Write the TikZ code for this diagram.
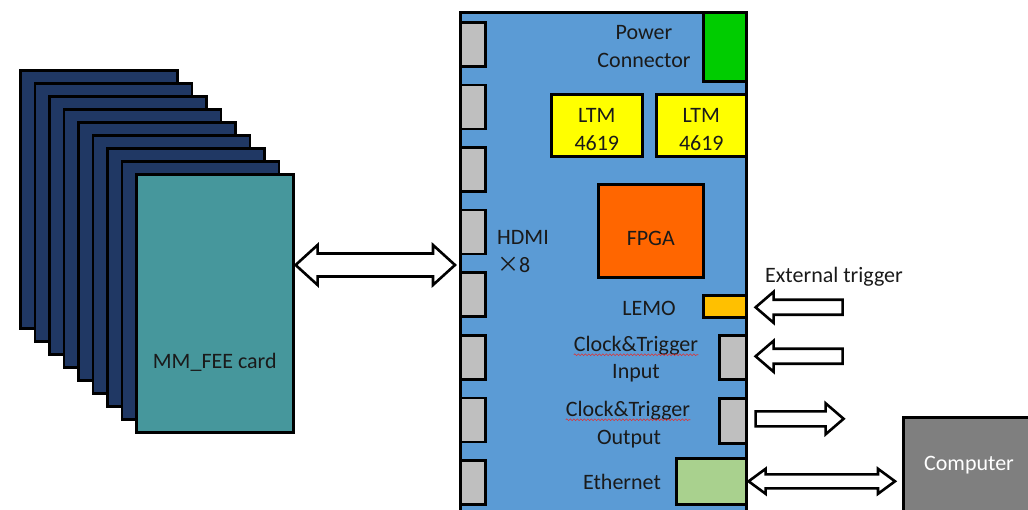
\documentclass[tikz,border=0pt]{standalone}
\usepackage{fontspec}
\setmainfont{Carlito}
\newfontfamily\cjk{Noto Sans CJK SC}
\usetikzlibrary{calc,decorations.pathmorphing}
\definecolor{navy}{HTML}{203864}
\definecolor{teal2}{HTML}{46979C}
\definecolor{boardblue}{HTML}{5B9BD5}
\definecolor{portgrey}{HTML}{BFBFBF}
\definecolor{pwrgreen}{HTML}{00CC00}
\definecolor{ltmyellow}{HTML}{FFFF00}
\definecolor{fpgaorange}{HTML}{FF6600}
\definecolor{lemoorange}{HTML}{FFC000}
\definecolor{ethgreen}{HTML}{A9D18E}
\definecolor{compgrey}{HTML}{7F7F7F}
\definecolor{txtc}{HTML}{1A1A1A}
\definecolor{squig}{HTML}{E03030}
\newcommand{\dblarrowblk}[5]{%
  \draw[barrow] let \p1=(#1), \p2=(#2) in
    (\x1,\y1) -- (\x1+#5,\y1+#4) -- (\x1+#5,\y1+#3) -- (\x2-#5,\y1+#3) -- (\x2-#5,\y1+#4)
    -- (\x2,\y1) -- (\x2-#5,\y1-#4) -- (\x2-#5,\y1-#3) -- (\x1+#5,\y1-#3) -- (\x1+#5,\y1-#4) -- cycle;}
\newcommand{\larrowblk}[5]{%
  \draw[barrow] let \p1=(#1), \p2=(#2) in
    (\x1,\y1) -- (\x1+#5,\y1+#4) -- (\x1+#5,\y1+#3) -- (\x2,\y1+#3) -- (\x2,\y1-#3)
    -- (\x1+#5,\y1-#3) -- (\x1+#5,\y1-#4) -- cycle;}
\newcommand{\rarrowblk}[5]{%
  \draw[barrow] let \p1=(#1), \p2=(#2) in
    (\x1,\y1+#3) -- (\x2-#5,\y1+#3) -- (\x2-#5,\y1+#4) -- (\x2,\y1) -- (\x2-#5,\y1-#4)
    -- (\x2-#5,\y1-#3) -- (\x1,\y1-#3) -- cycle;}
\begin{document}
\begin{tikzpicture}[x=1pt,y=-1pt,
  box/.style={draw=black, line width=2.6pt, inner sep=0pt, anchor=north west},
  txt/.style={inner sep=0pt, text=txtc, font=\fontsize{22}{28}\selectfont, align=center},
  barrow/.style={draw=black, fill=white, line width=2.6pt, line join=miter},
  squiggle/.style={draw=squig, line width=0.6pt, decorate,
    decoration={snake, segment length=3.5pt, amplitude=0.9pt}}]
\useasboundingbox (0,0) rectangle (1028,510);
\clip (0,0) rectangle (1028,510);

% card stack
\foreach \i in {0,...,7}{
  \node[box, fill=navy, minimum width=157pt, minimum height=258pt] (card\i) at (19+14.5*\i, 69+13*\i) {};
}
\node[box, fill=teal2, minimum width=157pt, minimum height=258pt] (front) at (135,173) {};
\node[txt] (frontlbl) at ($(front.center)+(0,59)$) {MM\_FEE card};

% board
\node[box, fill=boardblue, minimum width=286pt, minimum height=540pt] (board) at (459,11) {};
\foreach \i in {1,...,8}{
  \node[box, fill=portgrey, minimum width=25pt, minimum height=44pt] (p\i) at (459, 21+62.6*\i-62.6) {};
}
\node[box, fill=pwrgreen, minimum width=43pt, minimum height=69pt] (pwr) at (702,11) {};
\node[txt] (pwrlbl) at (644,47) {Power\\Connector};
\node[box, fill=ltmyellow, minimum width=91pt, minimum height=62pt] (ltm1) at (550,93) {};
\node[txt] (ltm1lbl) at ($(ltm1.center)+(0,4)$) {LTM\\4619};
\node[box, fill=ltmyellow, minimum width=90pt, minimum height=62pt] (ltm2) at (655,93) {};
\node[txt] (ltm2lbl) at ($(ltm2.center)+(0,4)$) {LTM\\4619};
\node[box, fill=fpgaorange, minimum width=105pt, minimum height=93pt] (fpga) at (597,183) {};
\node[txt] (fpgalbl) at ($(fpga.center)+(0,8)$) {FPGA};
\node[txt, align=left, anchor=west] (hdmilbl) at (497,252) {HDMI\\{\cjk ×}8};
\node[box, fill=lemoorange, minimum width=43pt, minimum height=22pt] (lemo) at (702,294) {};
\node[txt] (lemolbl) at (649,308) {LEMO};
\node[box, fill=portgrey, minimum width=27pt, minimum height=44pt] (ctin) at (718,334) {};
\node[txt] (ctinlbl) at (636,346) {Clock\&Trigger};
\node[txt] (ctinlbl2) at (636,373) {Input};
\node[box, fill=portgrey, minimum width=27pt, minimum height=45pt] (ctout) at (718,397) {};
\node[txt] (ctoutlbl) at (628,411) {Clock\&Trigger};
\node[txt] (ctoutlbl2) at (629,439) {Output};
\node[box, fill=ethgreen, minimum width=70pt, minimum height=46pt] (eth) at (675,457) {};
\node[txt] (ethlbl) at (622,482) {Ethernet};

% spell-check squiggles
\draw[squiggle] ($(ctinlbl.base west)+(0,3)$) -- ($(ctinlbl.base east)+(0,3)$);
\draw[squiggle] ($(ctoutlbl.base west)+(0,3)$) -- ($(ctoutlbl.base east)+(0,3)$);

% computer
\node[box, fill=compgrey, minimum width=140pt, minimum height=110pt] (comp) at (902,416) {};
\node[txt, text=white] (complbl) at (969,465) {Computer};

% external trigger label
\node[txt] (extlbl) at (834,277) {External trigger};

% arrows
\coordinate (yh) at (0,265);
\coordinate (hA) at ($(front.east |- yh)+(1,0)$);
\coordinate (hB) at ($(board.west |- yh)+(-4,0)$);
\dblarrowblk{hA}{hB}{11.5pt}{20pt}{22pt}

\coordinate (a1tip) at ($(lemo.east)+(8,1)$);
\coordinate (a1tail) at ($(lemo.east)+(95,1)$);
\larrowblk{a1tip}{a1tail}{7.5pt}{15.5pt}{18pt}

\coordinate (a2tip) at ($(ctin.east)+(8,-1)$);
\coordinate (a2tail) at ($(ctin.east)+(95,-1)$);
\larrowblk{a2tip}{a2tail}{7.5pt}{15.5pt}{18pt}

\coordinate (a3tail) at ($(ctout.east)+(8,-2)$);
\coordinate (a3tip) at ($(ctout.east)+(96,-2)$);
\rarrowblk{a3tail}{a3tip}{7.5pt}{15.5pt}{18pt}

\coordinate (eA) at ($(eth.east)+(1,0)$);
\coordinate (eB) at ($(comp.west |- eth.east)+(-7,0)$);
\dblarrowblk{eA}{eB}{7pt}{12.5pt}{17pt}
\end{tikzpicture}
\end{document}
